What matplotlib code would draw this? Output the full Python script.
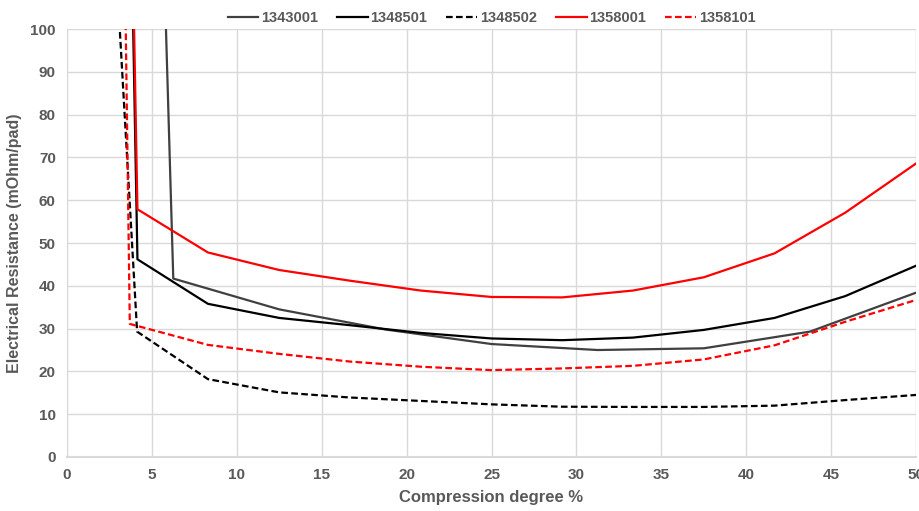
import matplotlib
matplotlib.use('Agg')
import matplotlib.pyplot as plt

###############################
# Data
###############################
x_1343001 = [5.80, 6.26, 12.5, 18.75, 25.0, 31.25, 37.5, 43.75, 50.0]
y_1343001 = [104.0, 41.7, 34.5, 29.8, 26.4, 25.0, 25.4, 29.3, 38.4]

x_1348501 = [3.88, 4.15, 8.3, 12.5, 16.67, 20.83, 25.0, 29.17, 33.33, 37.5, 41.67, 45.83, 50.0]
y_1348501 = [104.0, 46.2, 35.8, 32.5, 30.8, 29.0, 27.7, 27.3, 27.9, 29.7, 32.5, 37.6, 44.7]

x_1348502 = [3.05, 4.13, 8.3, 12.5, 16.67, 20.83, 25.0, 29.17, 33.33, 37.5, 41.67, 45.83, 50.0]
y_1348502 = [104.0, 29.3, 18.2, 15.1, 13.9, 13.1, 12.3, 11.75, 11.7, 11.7, 12.0, 13.3, 14.5]

x_1358001 = [3.93, 4.15, 8.3, 12.5, 16.67, 20.83, 25.0, 29.17, 33.33, 37.5, 41.67, 45.83, 50.0]
y_1358001 = [105.0, 57.9, 47.8, 43.7, 41.2, 38.9, 37.4, 37.3, 38.9, 42.0, 47.6, 57.1, 68.6]

x_1358101 = [3.44, 3.70, 8.3, 12.5, 16.67, 20.83, 25.0, 29.17, 33.33, 37.5, 41.67, 45.83, 50.0]
y_1358101 = [106.0, 31.1, 26.2, 24.1, 22.3, 21.1, 20.3, 20.7, 21.3, 22.8, 26.1, 31.6, 36.7]

x_ticks = list(range(0, 51, 5))
y_ticks = list(range(0, 101, 10))

###############################
# Plot
###############################
plt.rcParams['font.family'] = ['Liberation Sans Narrow', 'Liberation Sans', 'DejaVu Sans']
text_col = '#595959'
grid_col = '#d9d9d9'

fig = plt.figure(figsize=(9.2, 5.11), dpi=100)
ax = fig.add_axes([0.0728, 0.1057, 0.9229, 0.8373])

dash = (0, (3, 1.5))
ax.plot(x_1343001, y_1343001, color='#404040', lw=1.6, label='1343001')
ax.plot(x_1348501, y_1348501, color='black', lw=1.6, label='1348501')
ax.plot(x_1348502, y_1348502, color='black', lw=1.6, ls=dash, label='1348502')
ax.plot(x_1358001, y_1358001, color='#ff0000', lw=1.6, label='1358001')
ax.plot(x_1358101, y_1358101, color='#ff0000', lw=1.6, ls=dash, label='1358101')

ax.set_xlim(0, 50)
ax.set_ylim(0, 100)
ax.set_xticks(x_ticks)
ax.set_yticks(y_ticks)
ax.grid(True, color=grid_col, lw=1)
ax.set_axisbelow(True)
for side in ('top', 'right'):
    ax.spines[side].set_visible(False)
ax.spines['left'].set_color(grid_col)
ax.spines['bottom'].set_color(grid_col)
ax.spines['bottom'].set_linewidth(1.5)
ax.tick_params(length=0, pad=8, labelsize=11, labelcolor=text_col)
for lab in ax.get_xticklabels() + ax.get_yticklabels():
    lab.set_fontweight('bold')

ax.set_xlabel('Compression degree %', fontsize=12, fontweight='bold', color=text_col, labelpad=6)
ax.set_ylabel('Electrical Resistance (mOhm/pad)', fontsize=11.5, fontweight='bold', color=text_col, labelpad=6)

leg = ax.legend(loc='lower center', bbox_to_anchor=(0.5, 0.995), ncol=5, frameon=False,
                prop={'size': 10.5, 'weight': 'bold'},
                handlelength=2.1, columnspacing=1.3, handletextpad=0.2, borderaxespad=0)
for t in leg.get_texts():
    t.set_color(text_col)

fig.savefig('out.png', dpi=100)
